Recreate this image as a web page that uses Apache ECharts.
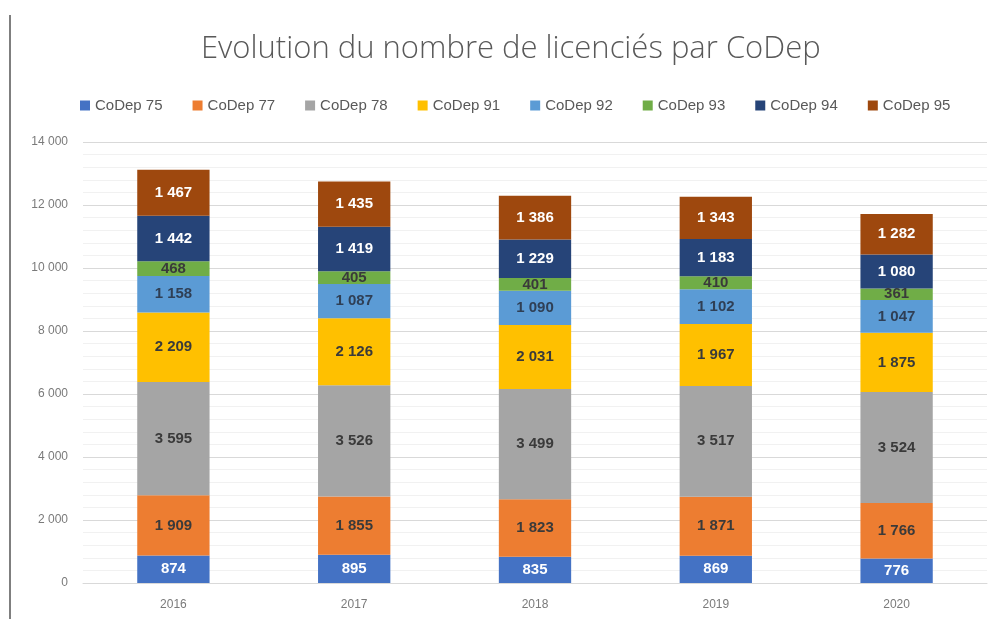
<!DOCTYPE html>
<html>
<head>
<meta charset="utf-8">
<script src="https://cdn.jsdelivr.net/npm/echarts@6/dist/echarts.min.js"></script>
<style>html,body{margin:0;padding:0;background:#fff;}#c{width:994px;height:619px;}</style>
</head>
<body>
<div id="c"></div>
<script>
const years = ['2016', '2017', '2018', '2019', '2020'];
const seriesNames = ['CoDep 75', 'CoDep 77', 'CoDep 78', 'CoDep 91', 'CoDep 92', 'CoDep 93', 'CoDep 94', 'CoDep 95'];
const codep75 = [874, 895, 835, 869, 776];
const codep77 = [1909, 1855, 1823, 1871, 1766];
const codep78 = [3595, 3526, 3499, 3517, 3524];
const codep91 = [2209, 2126, 2031, 1967, 1875];
const codep92 = [1158, 1087, 1090, 1102, 1047];
const codep93 = [468, 405, 401, 410, 361];
const codep94 = [1442, 1419, 1229, 1183, 1080];
const codep95 = [1467, 1435, 1386, 1343, 1282];
const yTicks = [0, 2000, 4000, 6000, 8000, 10000, 12000, 14000];

const allValues = [codep75, codep77, codep78, codep91, codep92, codep93, codep94, codep95];
const colors = ['#4472C4', '#ED7D31', '#A5A5A5', '#FFC000', '#5B9BD5', '#70AD47', '#264478', '#9E480E'];
const labelColors = ['#ffffff', '#3a3a3a', '#3a3a3a', '#3a3a3a', '#2f3f55', '#3a3a3a', '#ffffff', '#ffffff'];

function fmt(v) {
  return String(v).replace(/\B(?=(\d{3})+(?!\d))/g, ' ');
}

const chart = echarts.init(document.getElementById('c'));
chart.setOption({
  animation: false,
  backgroundColor: '#ffffff',
  title: {
    text: 'Evolution du nombre de licenciés par CoDep',
    left: 196,
    top: 29,
    textStyle: { fontFamily: 'Open Sans', fontWeight: 300, fontSize: 31, color: '#595959' }
  },
  legend: {
    data: seriesNames,
    top: 93,
    left: 75,
    itemWidth: 10,
    itemHeight: 10,
    itemGap: 30,
    icon: 'rect',
    textStyle: { fontFamily: 'Liberation Sans', fontSize: 15, color: '#595959' }
  },
  grid: { left: 83, right: 7, top: 142, bottom: 36, containLabel: false },
  xAxis: {
    type: 'category',
    data: years,
    axisTick: { show: false },
    axisLine: { show: true, lineStyle: { color: '#d9d9d9' } },
    axisLabel: { fontFamily: 'Liberation Sans', fontSize: 12, color: '#7a7a7a', margin: 16 }
  },
  yAxis: {
    type: 'value',
    min: yTicks[0],
    max: yTicks[yTicks.length - 1],
    interval: 2000,
    axisLine: { show: false },
    axisTick: { show: false },
    axisLabel: { fontFamily: 'Liberation Sans', fontSize: 12, color: '#7a7a7a', margin: 15, formatter: fmt },
    splitLine: { lineStyle: { color: '#d9d9d9' } },
    minorTick: { show: false, splitNumber: 5 },
    minorSplitLine: { show: true, lineStyle: { color: '#f1f1f1' } }
  },
  graphic: [{
    type: 'line',
    shape: { x1: 10, y1: 15, x2: 10, y2: 619 },
    style: { stroke: '#7f7f7f', lineWidth: 2 }
  }],
  series: seriesNames.map((name, i) => ({
    name: name,
    type: 'bar',
    stack: 'total',
    barWidth: '40%',
    data: allValues[i],
    itemStyle: { color: colors[i] },
    label: {
      show: true,
      position: 'inside',
      fontFamily: 'Liberation Sans',
      fontSize: 15,
      fontWeight: 'bold',
      color: labelColors[i],
      formatter: p => fmt(p.value)
    }
  }))
});
</script>
</body>
</html>
